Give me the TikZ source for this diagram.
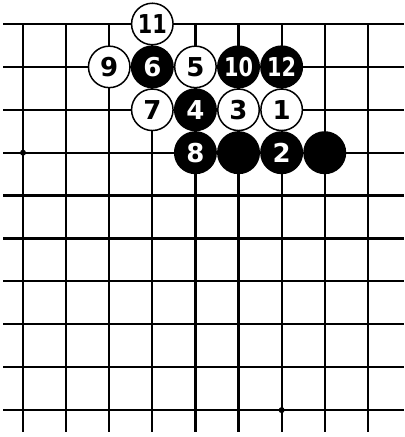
\documentclass[tikz,border=0pt]{standalone}
\usepackage{fontspec}
\setmainfont{DejaVu Sans}
\usetikzlibrary{positioning}

\newcommand{\narrownum}[1]{\scalebox{0.8}[1]{#1}}

\begin{document}
\begin{tikzpicture}[
    x=43.1pt, y=-42.9pt,
    gridline/.style={line width=2.2pt},
    stone/.style={circle, draw, line width=1.5pt, minimum size=41.5pt, inner sep=0pt, font=\fontsize{26}{26}\selectfont\bfseries},
    whitestone/.style={stone, fill=white, text=black},
    blackstone/.style={stone, fill=black, text=white},
    starpoint/.style={circle, fill=black, inner sep=0pt, minimum size=6pt}
]
    \useasboundingbox (-0.534,-0.559) rectangle (8.840,9.627);

    % board lines
    \foreach \j in {0,...,9}
        \draw [gridline] (-0.464,\j) -- (8.840,\j);
    \foreach \i in {0,...,8}
        \draw [gridline] (\i,0) -- (\i,9.51);

    \node [starpoint] (hoshi1) at (0,3) {};
    \node [starpoint] (hoshi2) at (6,9) {};

    % stones
    \node [whitestone] (w11) at (3,0) {\narrownum{11}};
    \node [whitestone] (w9) at (2,1) {9};
    \node [blackstone] (b6) at (3,1) {6};
    \node [whitestone] (w5) at (4,1) {5};
    \node [blackstone] (b10) at (5,1) {\narrownum{10}};
    \node [blackstone] (b12) at (6,1) {\narrownum{12}};
    \node [whitestone] (w7) at (3,2) {7};
    \node [blackstone] (b4) at (4,2) {4};
    \node [whitestone] (w3) at (5,2) {3};
    \node [whitestone] (w1) at (6,2) {1};
    \node [blackstone] (b8) at (4,3) {8};
    \node [blackstone] (bA) at (5,3) {};
    \node [blackstone] (b2) at (6,3) {2};
    \node [blackstone] (bB) at (7,3) {};

\end{tikzpicture}
\end{document}
